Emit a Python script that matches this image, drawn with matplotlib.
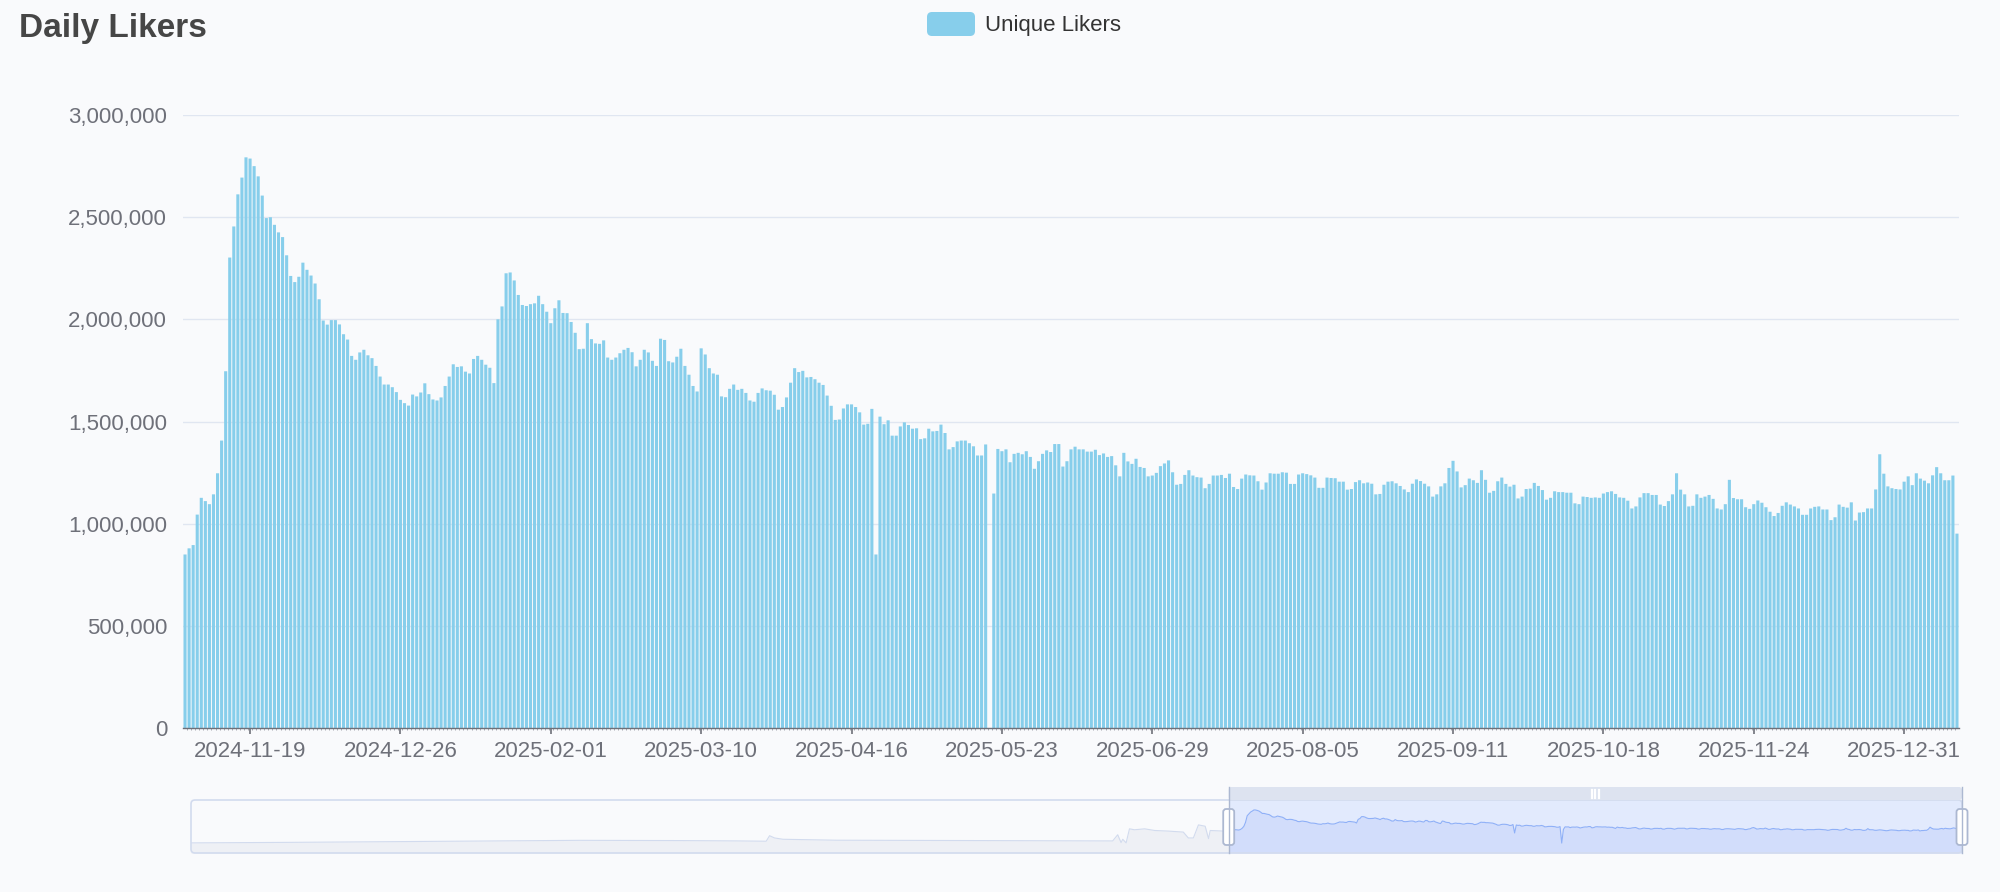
import numpy as np
import pandas as pd
import matplotlib
matplotlib.use('Agg')
import matplotlib.pyplot as plt
from matplotlib.patches import FancyBboxPatch
from matplotlib.ticker import FuncFormatter

plt.rcParams['font.family'] = ['Liberation Sans', 'DejaVu Sans']

# daily unique likers (thousands)
likers_2024 = [850, 880, 896, 1045, 1127, 1111, 1096, 1144, 1247, 1407,
               1746, 2302, 2454, 2611, 2693, 2792, 2786, 2749, 2699, 2605,
               2495, 2499, 2462, 2425, 2402, 2313, 2212, 2182, 2208, 2277,
               2242, 2214, 2175, 2098, 1994, 1974, 1996, 1996, 1975, 1927,
               1901, 1821, 1802, 1838, 1851, 1824, 1810, 1772, 1720, 1681,
               1681, 1668, 1644, 1606, 1590, 1578, 1632, 1623, 1642]
likers_2025_q1 = [1687, 1634, 1608, 1603, 1618, 1674, 1720, 1780, 1767, 1770,
                  1744, 1735, 1806, 1821, 1802, 1778, 1763, 1688, 2000, 2063,
                  2225, 2229, 2190, 2119, 2070, 2065, 2074, 2078, 2115, 2074,
                  2037, 1981, 2054, 2093, 2031, 2030, 1987, 1934, 1854, 1856,
                  1981, 1903, 1882, 1880, 1897, 1813, 1802, 1813, 1834, 1851,
                  1860, 1839, 1770, 1802, 1851, 1838, 1797, 1772, 1905, 1899,
                  1795, 1789, 1817, 1856, 1772, 1729, 1674, 1647, 1858, 1828,
                  1761, 1735, 1729, 1623, 1619, 1660, 1681, 1655, 1660, 1640,
                  1603, 1597, 1640, 1662, 1653, 1651, 1631, 1558, 1571, 1618]
likers_2025_q2 = [1690, 1761, 1742, 1748, 1716, 1718, 1707, 1690, 1679, 1627,
                  1577, 1508, 1510, 1564, 1584, 1584, 1571, 1545, 1485, 1489,
                  1562, 850, 1524, 1487, 1506, 1431, 1431, 1476, 1496, 1483,
                  1465, 1467, 1414, 1418, 1465, 1452, 1454, 1485, 1444, 1364,
                  1375, 1403, 1407, 1407, 1394, 1379, 1334, 1334, 1388, None,
                  1148, 1366, 1355, 1364, 1301, 1342, 1347, 1340, 1355, 1327,
                  1269, 1306, 1342, 1359, 1351, 1390, 1390, 1280, 1306, 1364,
                  1377, 1364, 1364, 1353, 1353, 1362, 1336, 1344, 1327, 1331,
                  1286, 1232, 1347, 1305, 1293, 1318, 1278, 1273, 1232, 1236,
                  1249]
likers_2025_q3 = [1282, 1295, 1310, 1252, 1191, 1195, 1239, 1262, 1236, 1228,
                  1226, 1174, 1195, 1236, 1236, 1239, 1224, 1245, 1180, 1170,
                  1221, 1241, 1237, 1236, 1208, 1167, 1202, 1247, 1245, 1245,
                  1252, 1250, 1195, 1195, 1241, 1247, 1243, 1237, 1226, 1176,
                  1176, 1226, 1224, 1223, 1206, 1206, 1167, 1170, 1204, 1213,
                  1198, 1202, 1196, 1144, 1146, 1191, 1206, 1208, 1198, 1185,
                  1168, 1155, 1196, 1217, 1209, 1196, 1183, 1133, 1144, 1183,
                  1198, 1273, 1308, 1256, 1178, 1189, 1221, 1213, 1200, 1262,
                  1215, 1152, 1161, 1208, 1226, 1195, 1182, 1191, 1124, 1133,
                  1170, 1172]
likers_2025_q4 = [1200, 1185, 1165, 1118, 1127, 1159, 1155, 1155, 1152, 1152,
                  1100, 1096, 1133, 1131, 1127, 1129, 1127, 1148, 1155, 1159,
                  1146, 1129, 1127, 1113, 1075, 1085, 1129, 1150, 1150, 1141,
                  1141, 1094, 1087, 1111, 1144, 1247, 1167, 1144, 1085, 1088,
                  1144, 1127, 1133, 1141, 1122, 1075, 1070, 1096, 1215, 1126,
                  1120, 1120, 1081, 1073, 1096, 1114, 1103, 1081, 1059, 1038,
                  1053, 1088, 1105, 1094, 1085, 1075, 1044, 1044, 1075, 1083,
                  1085, 1070, 1070, 1018, 1032, 1094, 1083, 1079, 1105, 1016,
                  1055, 1057, 1075, 1075, 1168, 1340, 1245, 1183, 1174, 1170,
                  1168, 1206]
likers_2026 = [1232, 1189, 1247, 1221, 1211, 1198, 1237, 1277, 1247, 1213,
               1213, 1236, 952]

start_date = '2024-11-03'
tick_labels = ['2024-11-19', '2024-12-26', '2025-02-01', '2025-03-10',
               '2025-04-16', '2025-05-23', '2025-06-29', '2025-08-05',
               '2025-09-11', '2025-10-18', '2025-11-24', '2025-12-31']

# zoom slider overview before the visible window (day offset, thousands)
overview_start = '2023-02-25'
early_days = [0, 60, 121, 201, 231, 291, 326, 342, 344, 347,
              352, 384, 469, 548, 551, 553, 554, 556, 558, 561,
              567, 573, 581, 590, 593, 596, 599, 603, 605, 606, 614]
early_likers = [15, 60, 120, 200, 230, 210, 180, 155, 620, 430,
                320, 240, 210, 180, 700, 40, 320, 15, 1200, 1120,
                1200, 1060, 1010, 925, 430, 430, 1530, 1420, 375, 1060, 1010]

BG = '#f9fafc'
BAR = '#87CEEB'
AXIS = '#6E7079'
W, H = 2000, 892

likers = np.array(likers_2024 + likers_2025_q1 + likers_2025_q2 +
                  likers_2025_q3 + likers_2025_q4 + likers_2026, dtype=float)
n = len(likers)
dates = pd.date_range(start_date, periods=n).strftime('%Y-%m-%d').tolist()
tick_pos = [dates.index(d) for d in tick_labels]


def px(l, t, r, b):
    return [l / W, 1 - b / H, (r - l) / W, (b - t) / H]


fig = plt.figure(figsize=(W / 100, H / 100), dpi=100, facecolor=BG)

# main bar chart
ax = fig.add_axes(px(183, 114.8, 1959, 728.3))
ax.set_facecolor('none')
x = np.arange(n)
bars = ax.bar(x, np.nan_to_num(likers) * 1000, width=0.76, color=BAR, zorder=2)
for b in bars:
    b.set_snap(False)
ax.set_xlim(-0.5, n - 0.5)
ax.set_ylim(0, 3_000_000)
ax.set_yticks(np.arange(0, 3_000_001, 500_000))
ax.yaxis.set_major_formatter(FuncFormatter(lambda v, p: f'{int(v):,}'))
ax.grid(axis='y', color='#E0E6F1', lw=1.0, zorder=0)
for s in ['top', 'right', 'left']:
    ax.spines[s].set_visible(False)
ax.spines['bottom'].set_color(AXIS)
ax.spines['bottom'].set_linewidth(1.0)
ax.spines['bottom'].set_zorder(3)
ax.tick_params(axis='y', length=0, pad=11.5, labelsize=16, labelcolor=AXIS)
ax.set_xticks(tick_pos)
ax.set_xticklabels(tick_labels)
ax.set_xticks(np.arange(n - 1) + 0.5, minor=True)
ax.tick_params(axis='x', which='major', length=4, width=1.2, color=AXIS,
               pad=5, labelsize=16, labelcolor=AXIS)
ax.tick_params(axis='x', which='minor', length=1.5, width=0.6, color='#9a9ca6')

# title and legend
fig.text(19 / W, 1 - 37 / H, 'Daily Likers', fontsize=24, fontweight='bold',
         color='#464646', va='baseline', ha='left')

ov = fig.add_axes([0, 0, 1, 1])
ov.set_xlim(0, W)
ov.set_ylim(H, 0)
ov.axis('off')
ov.set_zorder(5)
ov.add_patch(FancyBboxPatch((927, 12), 48, 24, boxstyle='round,pad=0,rounding_size=5',
                            fc=BAR, ec='none'))
ov.text(985, 25, 'Unique Likers', fontsize=16, color='#333333', va='center', ha='left')

# zoom slider with data shadow
win0 = (pd.Timestamp(start_date) - pd.Timestamp(overview_start)).days
total = win0 + n
sl, st, sr, sb = 191, 800, 1962, 853
sa = fig.add_axes(px(sl, st, sr, sb))
sa.axis('off')
vmax = np.nanmax(likers)
sa.set_xlim(0, total - 1)
ylo = -0.3 * vmax
sa.set_ylim(ylo, 1.3 * vmax)
sa.axvspan(win0, total - 1, color='#e2eafd', lw=0, zorder=0)

shadow = np.nan_to_num(likers)
xp = early_days + [win0]
vp = early_likers + [shadow[0]]
sa.fill_between(xp, ylo, vp, color='#eef0f5', lw=0, zorder=1)
sa.plot(xp, vp, color='#d2dbee', lw=0.8, zorder=2)
xs = win0 + np.arange(n)
sa.fill_between(xs, ylo, shadow, color='#d2ddfb', lw=0, zorder=1)
sa.plot(xs, shadow, color='#8fb0f7', lw=0.8, zorder=2)

ov.add_patch(FancyBboxPatch((sl, st), sr - sl, sb - st,
                            boxstyle='round,pad=0,rounding_size=4',
                            fc='none', ec='#d2dbee', lw=1.2))
hx0 = sl + (sr - sl) * win0 / (total - 1)
hx1 = sr
ov.add_patch(FancyBboxPatch((hx0, 787), hx1 - hx0, 13,
                            boxstyle='round,pad=0,rounding_size=3',
                            fc='#dde3f0', ec='none'))
mid = (hx0 + hx1) / 2
for dx in (-3.5, 0, 3.5):
    ov.plot([mid + dx, mid + dx], [789.5, 797.5], color='white', lw=1.6)
for hx in (hx0, hx1):
    ov.plot([hx, hx], [787, sb], color='#acb8d1', lw=1.0)
    ov.add_patch(FancyBboxPatch((hx - 5.5, 809), 11, 36,
                                boxstyle='round,pad=0,rounding_size=3',
                                fc='white', ec='#acb8d1', lw=1.3))

fig.savefig('out.png', dpi=100, facecolor=BG)
